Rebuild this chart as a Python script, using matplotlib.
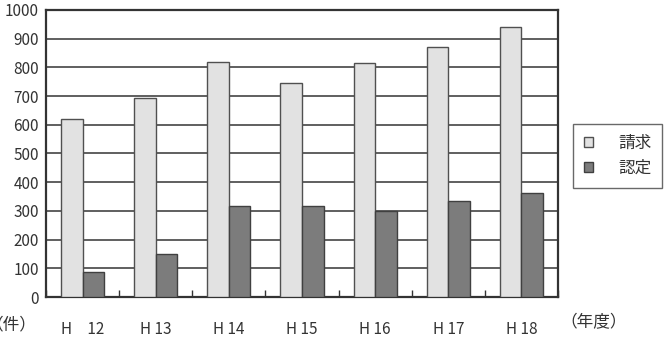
import matplotlib
matplotlib.use("Agg")
import matplotlib.pyplot as plt
import numpy as np

plt.rcParams['font.family'] = ['Noto Sans CJK JP', 'DejaVu Sans']

categories = ["H\u300012", "H 13", "H 14", "H 15", "H 16", "H 17", "H 18"]
seikyu = [620, 693, 820, 747, 816, 871, 941]
nintei = [88, 149, 318, 318, 300, 334, 362]
yticks = [0, 100, 200, 300, 400, 500, 600, 700, 800, 900, 1000]

fig = plt.figure(figsize=(6.68, 3.42), dpi=100)
ax = fig.add_axes([46/668, 45/342, 512/668, 287/342])

x = np.arange(len(categories))
w = 0.295
ax.bar(x - w/2, seikyu, width=w, color="#e2e2e2", edgecolor="#505050", linewidth=1.0, zorder=3, label="請求")
ax.bar(x + w/2, nintei, width=w, color="#7c7c7c", edgecolor="#404040", linewidth=1.0, zorder=3, label="認定")

ax.set_xlim(-0.5, len(categories) - 0.5)
ax.set_ylim(0, 1000)
ax.set_yticks(yticks)
ax.set_yticklabels([str(v) for v in yticks], fontsize=11, color="#333333")
ax.yaxis.grid(True, color="#444444", linewidth=1.2, zorder=0)
ax.tick_params(axis='y', length=0, pad=5)

ax.set_xticks(x)
ax.set_xticklabels(categories, fontsize=11, color="#333333")
ax.tick_params(axis='x', length=0, pad=17)
ax.set_xticks(np.arange(len(categories) + 1) - 0.5, minor=True)
ax.tick_params(axis='x', which='minor', direction='in', length=5, width=1.0, color="#333333")

for s in ax.spines.values():
    s.set_color("#333333")
    s.set_linewidth(1.6)

fig.text(36/668, 1 - 325/342, "（件）", ha='right', va='center', fontsize=12, color="#333333")
fig.text(560/668, 1 - 323/342, "（年度）", ha='left', va='center', fontsize=12, color="#333333")

leg = ax.legend(loc='upper left', bbox_to_anchor=(573/668, 1 - 124/342), bbox_transform=fig.transFigure,
                frameon=True, fancybox=False, fontsize=12, handlelength=0.55, handleheight=0.55,
                handletextpad=1.5, borderpad=0.65, labelspacing=0.5, borderaxespad=0)
leg.get_frame().set_edgecolor("#444444")
leg.get_frame().set_linewidth(1.0)
for t in leg.get_texts():
    t.set_color("#333333")

fig.savefig("out.png", dpi=100)
